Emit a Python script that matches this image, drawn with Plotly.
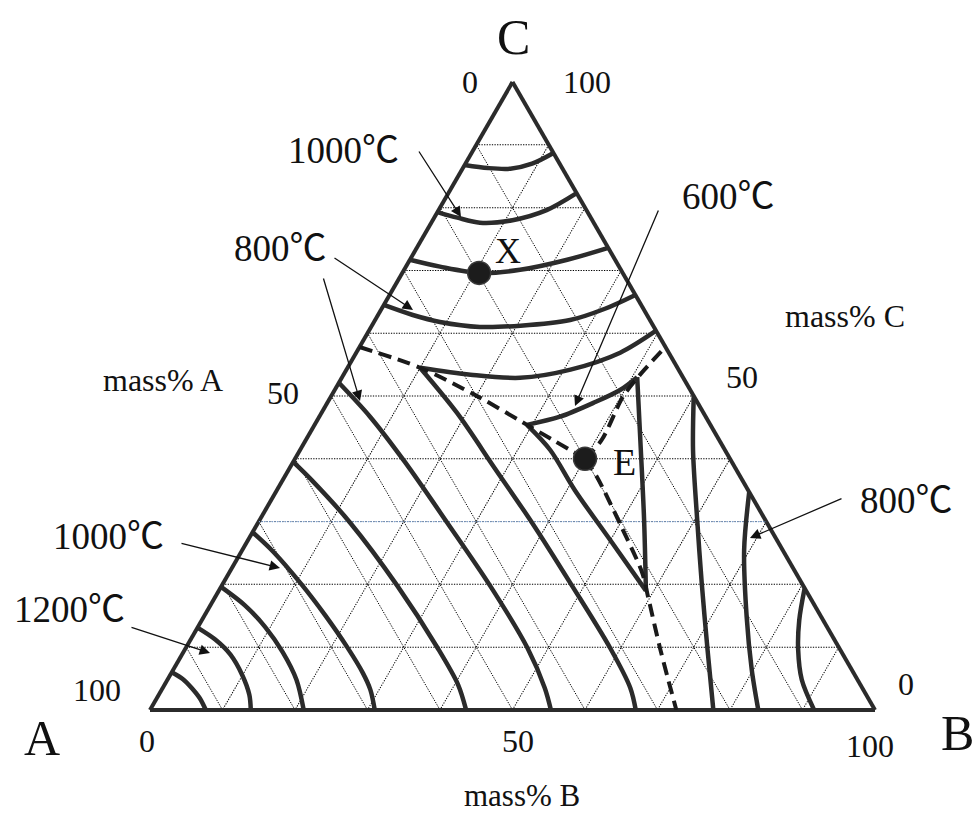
import plotly.graph_objects as go

W, H = 975, 815

# ---------------------------------------------------------------------------
# Data: every composition is written as (mass% B, mass% C); mass% A = 100 - B - C
# ---------------------------------------------------------------------------
components = ["A", "B", "C"]
tick_text = ["0", "50", "100"]

# isotherms in the C-rich primary field (top of the triangle)
iso_c1 = [(0, 86.8), (3.5, 86.3), (6.6, 86.2), (9.2, 87.0), (11.3, 88.7)]
iso_c2 = [(0, 79.3), (3.2, 78.4), (6.7, 77.6), (11.0, 78.0), (14.9, 79.6), (17.7, 82.3)]
iso_c3 = [(0, 71.7), (4.7, 70.6), (10.7, 69.6), (16.0, 70.1), (21.7, 71.7), (26.4, 73.6)]
iso_c4 = [(0, 64.5), (4.8, 62.9), (9.1, 61.8), (15.0, 61.0), (20.5, 61.2), (26.9, 62.1),
          (30.8, 63.9), (33.9, 66.1)]
iso_c5 = [(10.0, 54.5), (17.5, 53.4), (24.6, 52.9), (30.9, 54.2), (36.4, 56.9), (39.6, 60.4)]

# isotherms in the A-rich primary field (lower left)
iso_a1 = [(0, 6.0), (2.1, 4.9), (4.0, 3.5), (5.9, 1.9), (7.7, 0)]
iso_a2 = [(0, 13.1), (3.4, 11.2), (6.7, 8.8), (9.9, 5.6), (12.5, 2.4), (13.9, 0)]
iso_a3 = [(0, 19.6), (4.7, 16.7), (9.3, 13.2), (13.7, 9.2), (17.8, 4.8), (21.2, 0)]
iso_a4 = [(0, 28.3), (4.4, 25.2), (10.9, 20.0), (16.6, 15.1), (22.2, 10.0), (26.4, 5.9),
          (28.8, 3.2), (31.0, 0)]
iso_a5 = [(0, 39.5), (4.0, 36.6), (12.6, 29.9), (24.2, 19.8), (34.7, 9.9), (40.5, 4.0), (43.6, 0)]
iso_a6 = [(0, 52.1), (7.0, 46.7), (15.4, 39.5), (26.0, 29.9), (37.0, 19.8), (47.1, 9.9),
          (52.7, 3.5), (55.3, 0)]
iso_a7 = [(10.0, 54.5), (18.7, 47.3), (28.3, 38.5), (37.7, 29.9), (48.3, 19.8), (58.5, 9.9),
          (64.5, 3.5), (67.0, 0)]

# isotherms in the B-rich primary field (lower right)
iso_b1 = [(50.0, 50.0), (54.2, 41.4), (60.1, 30.7), (66.0, 20.2), (72.1, 9.6), (77.7, 0)]
iso_b2 = [(65.3, 34.7), (69.2, 25.5), (74.9, 14.8), (79.8, 6.4), (83.9, 0)]
iso_b3 = [(80.6, 19.4), (82.4, 14.3), (84.6, 9.6), (87.5, 4.8), (91.6, 0)]

# 600 degC isotherm around the ternary eutectic
iso_600_top = [(29.3, 45.4), (33.2, 46.7), (36.7, 48.9), (39.4, 51.0), (40.7, 53.0)]
iso_600_right = [(40.7, 53.0), (47.0, 41.4), (53.0, 30.3), (58.9, 19.0)]
iso_600_left = [(29.3, 45.4), (34.5, 41.4), (41.1, 35.0), (49.9, 27.1), (58.9, 19.0)]

# eutectic valleys (binary eutectic -> ternary eutectic E)
valley_ac = [(0, 57.8), (10.0, 54.5), (20.3, 49.9), (29.3, 45.4), (40.0, 40.0)]
valley_bc = [(40.0, 40.0), (40.8, 43.0), (40.3, 49.9), (40.9, 53.4), (42.2, 57.8)]
valley_ab = [(40.0, 40.0), (43.1, 37.1), (50.5, 29.1), (57.0, 21.8), (59.7, 18.0),
             (65.6, 9.6), (72.6, 0)]

# marked compositions
point_x = (10.6, 69.6)
point_e = (40.0, 40.0)
point_names = ["X", "E"]

# highlighted grid line at 30 mass% C
guide_c30 = [(0, 30), (70, 30)]

temp_labels = ["1000℃", "800℃", "600℃", "800℃", "1000℃", "1200℃"]

# ---------------------------------------------------------------------------
INK = "#2b2b2b"


def split(points):
    """Return (mass% A, mass% B, mass% C) lists."""
    b = [p[0] for p in points]
    c = [p[1] for p in points]
    a = [round(100 - x - y, 3) for x, y in points]
    return a, b, c


def curve(points, width=4.5, dash=None, color=INK, shape="spline"):
    a, b, c = split(points)
    # ternary a (top) = C, b (bottom left) = A, c (bottom right) = B
    return go.Scatterternary(
        a=c, b=a, c=b, mode="lines",
        line=dict(color=color, width=width, dash=dash, shape=shape, smoothing=0.9),
        hoverinfo="skip", showlegend=False,
    )


fig = go.Figure()

fig.add_trace(curve(guide_c30, width=1.3, dash="1.3px,1.3px", color="#7ea3d4", shape="linear"))

for iso in [iso_c1, iso_c2, iso_c3, iso_c4, iso_c5,
            iso_a1, iso_a2, iso_a3, iso_a4, iso_a5, iso_a6, iso_a7,
            iso_b1, iso_b2, iso_b3,
            iso_600_top, iso_600_right, iso_600_left]:
    fig.add_trace(curve(iso))

for valley in [valley_ac, valley_bc, valley_ab]:
    fig.add_trace(curve(valley, width=4.0, dash="13px,7px", color="#1a1a1a"))

pa, pb, pc = split([point_x, point_e])
fig.add_trace(go.Scatterternary(
    a=pc, b=pa, c=pb, mode="markers",
    marker=dict(size=23, color="#1c1c1c", line=dict(color="#3a3a3a", width=1.5)),
    hoverinfo="skip", showlegend=False,
))

axis_style = dict(
    min=0, tick0=0, dtick=10,
    showgrid=True, gridcolor="#000000", gridwidth=1, griddash="1.3px,1.3px",
    showline=True, linecolor=INK, linewidth=4,
    showticklabels=False, ticks="", title=dict(text=""),
    layer="below traces",
)

fig.update_layout(
    width=W, height=H,
    margin=dict(l=0, r=0, t=0, b=0),
    paper_bgcolor="white", plot_bgcolor="white",
    showlegend=False,
    ternary=dict(
        sum=100, bgcolor="white",
        domain=dict(x=[150 / W, 875 / W], y=[(H - 710) / H, (H - 82) / H]),
        aaxis=axis_style, baxis=axis_style, caxis=axis_style,
    ),
)

# ---------------------------------------------------------------------------
# Text and leader arrows (positions in screen pixels)
# ---------------------------------------------------------------------------
SERIF = "Liberation Serif, Noto Sans CJK JP, serif"


def px(x, y):
    return x / W, 1 - y / H


def text(s, x, y, size):
    xp, yp = px(x, y)
    fig.add_annotation(x=xp, y=yp, xref="paper", yref="paper", text=s, showarrow=False,
                       xanchor="center", yanchor="middle",
                       font=dict(family=SERIF, size=size, color="#111111"))


def arrow(tail, tip):
    xp, yp = px(*tip)
    fig.add_annotation(x=xp, y=yp, xref="paper", yref="paper", text="",
                       showarrow=True, axref="pixel", ayref="pixel",
                       ax=tail[0] - tip[0], ay=tail[1] - tip[1],
                       arrowhead=2, arrowsize=1.6, arrowwidth=1.3,
                       arrowcolor="#111111", standoff=0)


# corner names
text(components[0], 42, 738, 50)
text(components[1], 957, 733, 50)
text(components[2], 513, 37, 50)

# axis titles
text("mass% " + components[0], 163, 380, 32)
text("mass% " + components[2], 845, 316, 32)
text("mass% " + components[1], 522, 795, 31)

# scale values along each edge
text(tick_text[0], 470, 82, 32)      # A on left edge
text(tick_text[1], 283, 393, 32)
text(tick_text[2], 97, 690, 32)
text(tick_text[2], 587, 82, 32)      # C on right edge
text(tick_text[1], 742, 377, 32)
text(tick_text[0], 906, 684, 32)
text(tick_text[0], 147, 741, 32)     # B on base
text(tick_text[1], 518, 741, 32)
text(tick_text[2], 870, 746, 32)

# marked points
text(point_names[0], 508, 251, 36)
text(point_names[1], 624, 462, 38)

# isotherm labels
label_pos = [(343, 150), (280, 248), (728, 197), (906, 500), (108, 536), (69, 609)]
for s, (x, y) in zip(temp_labels, label_pos):
    text(s, x, y, 37)

arrow((418, 150), (461, 217))   # 1000 upper
arrow((333, 257), (413, 310))   # 800 upper
arrow((323, 277), (360, 401))   # 800 lower
arrow((659, 209), (575, 406))   # 600
arrow((843, 498), (750, 538))   # 800 right
arrow((180, 543), (280, 568))   # 1000 left
arrow((130, 627), (210, 653))   # 1200

fig.write_html("out.html")
